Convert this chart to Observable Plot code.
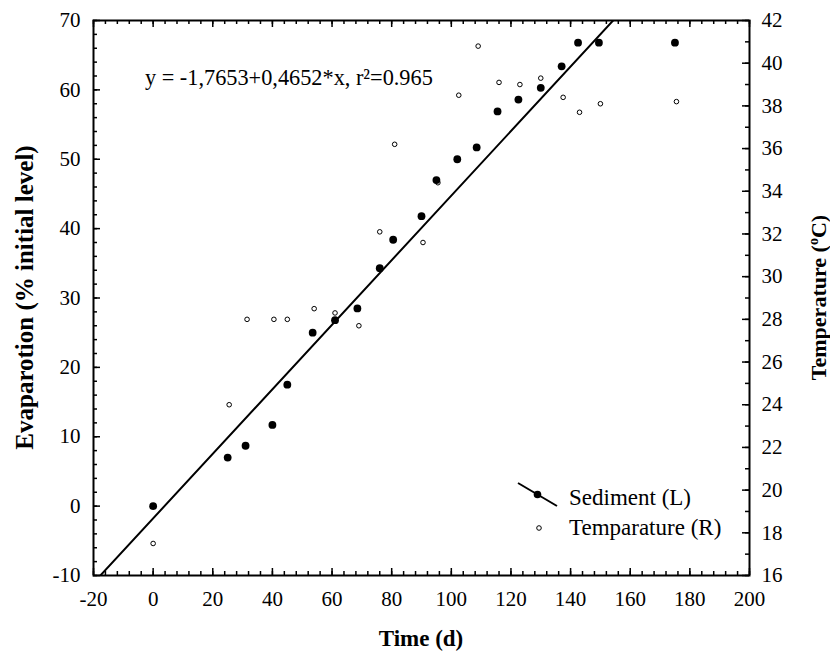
<!DOCTYPE html>
<html><head><meta charset="utf-8">
<script src="https://cdn.jsdelivr.net/npm/d3@7"></script>
<script src="https://cdn.jsdelivr.net/npm/@observablehq/plot@0.6"></script>
<style>
body{margin:0;background:#fff;}
#chart{width:830px;height:655px;}
#chart svg text{font-family:"Liberation Serif", serif;}
</style>
</head><body><div id="chart"></div>
<script>
// ---- data ----
const sedimentDays = [0, 25, 31, 40, 45, 53.5, 61, 68.5, 76, 80.5, 90, 95, 102, 108.5, 115.5, 122.5, 130, 137, 142.5, 149.5, 175];
const sedimentEvap = [0, 7, 8.7, 11.7, 17.5, 25, 26.8, 28.5, 34.3, 38.4, 41.8, 47, 50, 51.7, 56.9, 58.6, 60.3, 63.4, 66.8, 66.8, 66.8];
const tempDays = [0, 25.5, 31.5, 40.5, 45, 54, 61, 69, 76, 81, 90.5, 95.5, 102.5, 109, 116, 123, 130, 137.5, 143, 150, 175.5];
const tempValues = [17.5, 24.0, 28, 28, 28, 28.5, 28.3, 27.7, 32.1, 36.2, 31.6, 34.4, 38.5, 40.8, 39.1, 39.0, 39.3, 38.4, 37.7, 38.1, 38.2];
const xTicks = [-20, 0, 20, 40, 60, 80, 100, 120, 140, 160, 180, 200];
const yLeftTicks = [-10, 0, 10, 20, 30, 40, 50, 60, 70];
const yRightTicks = [16, 18, 20, 22, 24, 26, 28, 30, 32, 34, 36, 38, 40, 42];
const fitIntercept = -1.7653, fitSlope = 0.4652;
const equationLabel = "y = -1,7653+0,4652*x, r²=0.965";
const legendLabels = ["Sediment (L)", "Temparature (R)"];
const xTitle = "Time (d)";
const yLeftTitle = "Evaparotion (% initial level)";
const yRightTitle = ["Temperature (", "o", "C)"];

// ---- layout ----
const W = 830, H = 655, mL = 93, mR = 81, mT = 20, mB = 80;
const innerW = W - mL - mR, innerH = H - mT - mB;
const FONT = "'Liberation Serif', serif";
const leftDomain = [-10, 70], rightDomain = [16, 42];
const toLeft = t => leftDomain[0] + (t - rightDomain[0]) * (leftDomain[1] - leftDomain[0]) / (rightDomain[1] - rightDomain[0]);
const toRight = v => rightDomain[0] + (v - leftDomain[0]) * (rightDomain[1] - rightDomain[0]) / (leftDomain[1] - leftDomain[0]);

const sediment = sedimentDays.map((d, i) => ({day: d, evap: sedimentEvap[i]}));
const temperature = tempDays.map((d, i) => ({day: d, t: tempValues[i], y: toLeft(tempValues[i])}));
const fitLine = [-20, 200].map(x => ({x, y: fitIntercept + fitSlope * x}));

const xMinor = d3.range(-20, 200.01, 4);
const yMinor = d3.range(-10, 70.01, 2);
const tMinor = d3.range(16, 42.01, 1).map(toLeft);
const tMajor = yRightTicks.map(toLeft);

const MAJ = 7, MIN = 4;
const tickStyle = {stroke: "black", strokeWidth: 1.5};

function annotations(index, scales, values, dims) {
  const g = d3.create("svg:g").attr("font-family", FONT).attr("fill", "black").attr("text-anchor", "start");
  const right = dims.width - dims.marginRight;
  const bottom = dims.height - dims.marginBottom;
  const top = dims.marginTop, left = dims.marginLeft;
  // equation
  g.append("text").attr("x", left + 52).attr("y", top + 65).attr("font-size", 22.3).attr("text-anchor", "start").text(equationLabel);
  // legend
  const lg = g.append("g").attr("font-size", 23).attr("text-anchor", "start");
  lg.append("line").attr("x1", right - 231).attr("y1", bottom - 92).attr("x2", right - 192).attr("y2", bottom - 69)
    .attr("stroke", "black").attr("stroke-width", 2);
  lg.append("circle").attr("cx", right - 211.5).attr("cy", bottom - 80.5).attr("r", 3.8).attr("fill", "black");
  lg.append("text").attr("x", right - 180).attr("y", bottom - 70).text(legendLabels[0]);
  lg.append("circle").attr("cx", right - 210).attr("cy", bottom - 47).attr("r", 2.3).attr("fill", "white").attr("stroke", "black");
  lg.append("text").attr("x", right - 180).attr("y", bottom - 40).text(legendLabels[1]);
  // axis titles
  const cx = (left + right) / 2, cy = (top + bottom) / 2;
  g.append("text").attr("x", cx).attr("y", 646).attr("text-anchor", "middle").attr("font-weight", "bold").attr("font-size", 23).text(xTitle);
  g.append("text").attr("transform", `translate(33,${cy}) rotate(-90)`).attr("text-anchor", "middle")
    .attr("font-weight", "bold").attr("font-size", 25).text(yLeftTitle);
  const rt = g.append("text").attr("transform", `translate(826,${cy}) rotate(-90)`).attr("text-anchor", "middle")
    .attr("font-weight", "bold").attr("font-size", 22);
  rt.append("tspan").text(yRightTitle[0]);
  rt.append("tspan").attr("font-size", 14).attr("dy", -8).text(yRightTitle[1]);
  rt.append("tspan").attr("dy", 8).text(yRightTitle[2]);
  return g.node();
}

const axisFont = {fontFamily: FONT, fontSize: 21};

const chart = Plot.plot({
  width: W, height: H,
  marginLeft: mL, marginRight: mR, marginTop: mT, marginBottom: mB,
  style: {fontFamily: FONT, fontSize: "21px", color: "black", background: "white"},
  x: {domain: [-20, 200]},
  y: {domain: leftDomain},
  marks: [
    // inward ticks
    Plot.ruleX(xMinor, {x: d => d, insetTop: innerH - MIN, ...tickStyle}),
    Plot.ruleX(xTicks, {x: d => d, insetTop: innerH - MAJ, ...tickStyle}),
    Plot.ruleX(xMinor, {x: d => d, insetBottom: innerH - MIN, ...tickStyle}),
    Plot.ruleX(xTicks, {x: d => d, insetBottom: innerH - MAJ, ...tickStyle}),
    Plot.ruleY(yMinor, {y: d => d, insetRight: innerW - MIN, ...tickStyle}),
    Plot.ruleY(yLeftTicks, {y: d => d, insetRight: innerW - MAJ, ...tickStyle}),
    Plot.ruleY(tMinor, {y: d => d, insetLeft: innerW - MIN, ...tickStyle}),
    Plot.ruleY(tMajor, {y: d => d, insetLeft: innerW - MAJ, ...tickStyle}),
    // tick labels
    Plot.axisX(xTicks, {anchor: "bottom", tickSize: 0, tickPadding: 16, tickFormat: d => String(d), label: null, ...axisFont}),
    Plot.axisY(yLeftTicks, {anchor: "left", tickSize: 0, tickPadding: 13, tickFormat: d => String(d), label: null, ...axisFont}),
    Plot.axisY(tMajor, {anchor: "right", tickSize: 0, tickPadding: 12, tickFormat: d => String(Math.round(toRight(d))), label: null, ...axisFont}),
    // regression line
    Plot.line(fitLine, {x: "x", y: "y", stroke: "black", strokeWidth: 2, clip: true}),
    // data
    Plot.dot(temperature, {x: "day", y: "y", r: 2.3, fill: "white", stroke: "black", strokeWidth: 1}),
    Plot.dot(sediment, {x: "day", y: "evap", r: 3.9, fill: "black", stroke: "none"}),
    Plot.frame({stroke: "black", strokeWidth: 2}),
    annotations
  ]
});
document.getElementById("chart").append(chart);
</script>
</body></html>
